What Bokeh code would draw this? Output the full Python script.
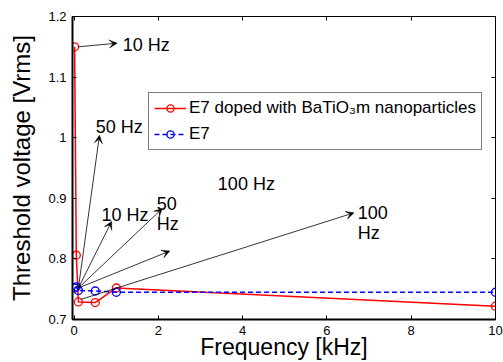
from bokeh.plotting import figure
from bokeh.models import (ColumnDataSource, Range1d, FixedTicker, LinearAxis,
                          Legend, LegendItem, Arrow, VeeHead)
from bokeh.core.properties import value
from bokeh.embed import file_html
from bokeh.resources import INLINE

# ---- data ----
freq_khz = [0.01, 0.05, 0.1, 0.5, 1.0, 10.0]
doped_vth = [1.15, 0.806, 0.729, 0.728, 0.752, 0.722]
e7_vth = [0.752, 0.754, 0.748, 0.747, 0.745, 0.745]

x_ticks = [0, 2, 4, 6, 8, 10]
y_ticks = [0.7, 0.8, 0.9, 1.0, 1.1, 1.2]
y_tick_labels = ["0.7", "0.8", "0.9", "1", "1.1", "1.2"]

arrow_x0 = [0.1, 0.1, 0.1, 0.1, 0.1, 0.15]
arrow_y0 = [1.15, 0.752, 0.752, 0.752, 0.752, 0.733]
arrow_x1 = [1.02, 0.6, 0.89, 2.09, 2.27, 6.64]
arrow_y1 = [1.156, 1.004, 0.862, 0.883, 0.813, 0.876]

note_text = ["10 Hz", "50 Hz", "10 Hz", "50", "Hz", "100 Hz", "100", "Hz"]
note_x = [1.15, 0.51, 0.65, 1.96, 1.96, 3.41, 6.73, 6.73]
note_y = [1.153, 1.0175, 0.873, 0.891, 0.857, 0.923, 0.8765, 0.842]

FONT = "Liberation Sans"

p = figure(width=503, height=362,
           x_range=Range1d(-0.04, 10), y_range=Range1d(0.7, 1.2),
           output_backend="svg", toolbar_location=None,
           min_border_left=72, min_border_right=8,
           min_border_top=16, min_border_bottom=40)
p.xgrid.visible = False
p.ygrid.visible = False
p.outline_line_color = "black"
p.outline_line_width = 1
p.background_fill_color = "white"
p.border_fill_color = "white"


def style_axis(ax, ticks, line_width):
    ax.ticker = FixedTicker(ticks=ticks)
    ax.major_tick_in = 4
    ax.major_tick_out = 0
    ax.minor_tick_line_color = None
    ax.axis_line_color = "black"
    ax.axis_line_width = line_width
    ax.major_tick_line_color = "black"
    ax.major_label_text_font = FONT
    ax.major_label_text_font_size = "13px"
    ax.major_label_text_color = "black"
    ax.axis_label_text_font = FONT
    ax.axis_label_text_font_style = "normal"
    ax.axis_label_text_color = "black"


xa = p.xaxis[0]
ya = p.yaxis[0]
style_axis(xa, x_ticks, 2)
style_axis(ya, y_ticks, 2)
xa.major_label_standoff = 6
ya.major_label_standoff = 6
ya.major_label_overrides = {t: l for t, l in zip(y_ticks, y_tick_labels)}
xa.axis_label = "Frequency [kHz]"
xa.axis_label_text_font_size = "23px"
xa.axis_label_standoff = -4
ya.axis_label = "Threshold voltage [Vrms]"
ya.axis_label_text_font_size = "24px"
ya.axis_label_standoff = 10

top_ax = LinearAxis()
right_ax = LinearAxis()
for ax, t in ((top_ax, x_ticks), (right_ax, y_ticks)):
    style_axis(ax, t, 1)
    ax.major_label_overrides = {tk: "" for tk in t}
    ax.major_label_standoff = 0
p.add_layout(top_ax, "above")
p.add_layout(right_ax, "right")

# ---- series ----
r1 = p.line(freq_khz, doped_vth, line_color="#ff0000", line_width=1.5)
s1 = p.scatter(freq_khz, doped_vth, marker="circle", size=8,
               line_color="#ff0000", fill_color=None, line_width=1.3)
r2 = p.line(freq_khz, e7_vth, line_color="#0000ff", line_width=1.5,
            line_dash="5 3")
s2 = p.scatter(freq_khz, e7_vth, marker="circle", size=8,
               line_color="#0000ff", fill_color=None, line_width=1.3)

# ---- arrows and notes ----
asrc = ColumnDataSource(dict(x0=arrow_x0, y0=arrow_y0, x1=arrow_x1, y1=arrow_y1))
p.add_layout(Arrow(end=VeeHead(size=8, fill_color="black", line_color="black",
                               line_width=0.5),
                   x_start="x0", y_start="y0", x_end="x1", y_end="y1",
                   source=asrc, line_color="black", line_width=0.8))

p.text(x=note_x, y=note_y, text=note_text, text_font=value(FONT),
       text_font_size="18px", text_baseline="middle", text_align="left",
       text_color="black")

legend = Legend(items=[
    LegendItem(label="E7 doped with BaTiO\u2083m nanoparticles", renderers=[r1, s1]),
    LegendItem(label="E7", renderers=[r2, s2]),
], location=(76, 169))
legend.label_text_font = FONT
legend.label_text_font_size = "17px"
legend.label_text_color = "black"
legend.glyph_width = 32
legend.glyph_height = 18
legend.label_height = 18
legend.label_standoff = 3
legend.padding = 5
legend.spacing = 6
legend.border_line_color = "black"
legend.border_line_width = 1
legend.background_fill_color = "white"
legend.background_fill_alpha = 1
legend.margin = 0
p.add_layout(legend)

open("out.html", "w").write(file_html(p, INLINE))
